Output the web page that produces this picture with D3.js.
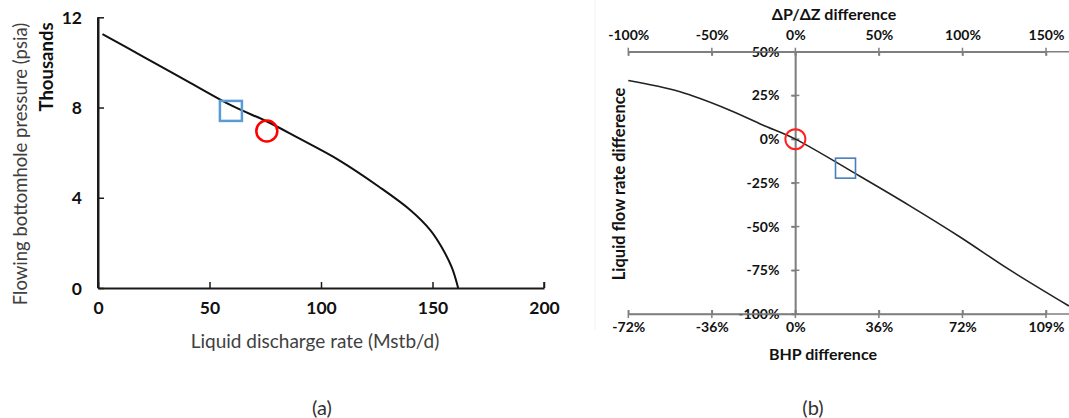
<!DOCTYPE html>
<html><head><meta charset="utf-8">
<script src="https://cdn.jsdelivr.net/npm/d3@7"></script>
<style>
body{margin:0;background:#fff;}
svg{display:block;font-family:Lato,"Open Sans",sans-serif;}
</style></head><body>
<svg id="c" width="1069" height="418"></svg>
<script>
// ---- Data: panel (a) ----
const rateA = [2, 20, 40, 60, 76, 90, 108, 126, 140, 149, 154, 158.7, 161.5];
const pressA = [11.25, 10.27, 9.17, 8.08, 7.37, 6.64, 5.67, 4.49, 3.46, 2.57, 1.83, 0.9, 0];
const squareA = [59.6, 7.85];
const circleA = [75.7, 6.96];
const xTicksA = [0, 50, 100, 150, 200];
const yTicksA = [0, 4, 8, 12];
// ---- Data: panel (b) ----
const dpdzB = [-100, -69.5, -39.6, -19.6, 0, 38.4, 68.3, 98.3, 128.3, 163.7];
const rateDiffB = [33.5, 27.2, 16.7, 8.1, 0, -21.1, -38.0, -55.8, -74.8, -95.4];
const squareB = [30, -16.6];
const circleB = [0, 0];
const topTicksB = [-100, -50, 0, 50, 100, 150];
const bottomTickLabelsB = ["-72%", "-36%", "0%", "36%", "72%", "109%"];
const yTicksB = [50, 25, 0, -25, -50, -75, -100];

const svg = d3.select("#c");

// ================= Panel (a) =================
const xa = d3.scaleLinear().domain([0, 200]).range([98, 544]);
const ya = d3.scaleLinear().domain([0, 12]).range([288, 17.3]);
const ga = svg.append("g");

const axA = ga.append("g").attr("transform", `translate(0,${ya(0)})`)
  .call(d3.axisBottom(xa).tickValues(xTicksA).tickSizeInner(-6).tickSizeOuter(0).tickPadding(14));
const ayA = ga.append("g").attr("transform", `translate(${xa(0)},0)`)
  .call(d3.axisLeft(ya).tickValues(yTicksA).tickSizeInner(-6).tickSizeOuter(0).tickPadding(16));
[axA, ayA].forEach(a => {
  a.select(".domain").attr("stroke", "#1a1a1a").attr("stroke-width", 2);
  a.selectAll(".tick line").attr("stroke", "#1a1a1a").attr("stroke-width", 1.5);
  a.selectAll(".tick text").attr("font-size", 17.5).attr("font-weight", 700).attr("fill", "#111").attr("font-family", "Lato");
});
ayA.selectAll(".tick text").attr("dy", "0.35em");
ga.append("line").attr("x1", xa(0)).attr("x2", xa(0)).attr("y1", ya(12)).attr("y2", ya(0))
  .attr("stroke", "#1a1a1a").attr("stroke-width", 2);
ga.append("line").attr("x1", xa(200)).attr("x2", xa(200)).attr("y1", ya(0)).attr("y2", ya(0) - 6)
  .attr("stroke", "#1a1a1a").attr("stroke-width", 1.5);

const lineA = d3.line().x(d => xa(d[0])).y(d => ya(d[1])).curve(d3.curveCatmullRom.alpha(0.5));
ga.append("path").datum(rateA.map((r, i) => [r, pressA[i]]))
  .attr("d", lineA).attr("fill", "none").attr("stroke", "#111").attr("stroke-width", 2);

ga.append("rect").attr("x", xa(squareA[0]) - 11).attr("y", ya(squareA[1]) - 10)
  .attr("width", 22).attr("height", 20).attr("fill", "none")
  .attr("stroke", "#5B9BD5").attr("stroke-width", 2.5);
ga.append("circle").attr("cx", xa(circleA[0])).attr("cy", ya(circleA[1])).attr("r", 10.5)
  .attr("fill", "none").attr("stroke", "#FF0000").attr("stroke-width", 2.5);

ga.append("text").attr("transform", "translate(27,164) rotate(-90)").attr("text-anchor", "middle")
  .attr("font-size", 18.5).attr("font-weight", 400).attr("fill", "#404040")
  .text("Flowing bottomhole pressure (psia)");
ga.append("text").attr("transform", "translate(53,67) rotate(-90)").attr("text-anchor", "middle")
  .attr("font-size", 18.5).attr("font-weight", 700).attr("fill", "#111")
  .text("Thousands");
ga.append("text").attr("x", 315).attr("y", 348).attr("text-anchor", "middle")
  .attr("font-size", 19).attr("font-weight", 400).attr("fill", "#404040")
  .text("Liquid discharge rate (Mstb/d)");
ga.append("text").attr("x", 322).attr("y", 415).attr("text-anchor", "middle")
  .attr("font-size", 20).attr("font-weight", 400).attr("fill", "#333").text("(a)");

// ================= Panel (b) =================
const xb = d3.scaleLinear().domain([-100, 150]).range([628.3, 1046]);
const yb = d3.scaleLinear().domain([-100, 50]).range([314, 51.7]);
const gb = svg.append("g");
const axisGray = "#7f7f7f";

gb.append("line").attr("x1", 595).attr("x2", 595).attr("y1", 0).attr("y2", 330)
  .attr("stroke", "#f2f2f2").attr("stroke-width", 1);

const topAx = gb.append("g").attr("transform", `translate(0,${yb(50)})`)
  .call(d3.axisTop(xb).tickValues(topTicksB).tickFormat(d => d + "%").tickSizeInner(-4).tickSizeOuter(0).tickPadding(12));
const botAx = gb.append("g").attr("transform", `translate(0,${yb(-100)})`)
  .call(d3.axisBottom(xb).tickValues(topTicksB).tickFormat((d, i) => bottomTickLabelsB[i]).tickSizeInner(-4).tickSizeOuter(0).tickPadding(8));
const yAx = gb.append("g").attr("transform", `translate(${xb(0)},0)`)
  .call(d3.axisLeft(yb).tickValues(yTicksB).tickFormat(d => d + "%").tickSizeInner(4).tickSizeOuter(0).tickPadding(12));
[topAx, botAx, yAx].forEach(a => {
  a.select(".domain").attr("stroke", axisGray).attr("stroke-width", 1.5);
  a.selectAll(".tick line").attr("stroke", axisGray).attr("stroke-width", 1.5);
  a.selectAll(".tick text").attr("font-size", 14).attr("font-weight", 700).attr("fill", "#111").attr("font-family", "Lato");
});
[yb(50), yb(-100)].forEach(yy => {
  gb.append("line").attr("x1", xb(-100)).attr("x2", 1069).attr("y1", yy).attr("y2", yy)
    .attr("stroke", axisGray).attr("stroke-width", 1.5);
  topTicksB.forEach(t => gb.append("line").attr("x1", xb(t)).attr("x2", xb(t))
    .attr("y1", yy - 4).attr("y2", yy + 4).attr("stroke", axisGray).attr("stroke-width", 1.5));
});
yTicksB.forEach(t => gb.append("line").attr("x1", xb(0) - 4).attr("x2", xb(0) + 4)
  .attr("y1", yb(t)).attr("y2", yb(t)).attr("stroke", axisGray).attr("stroke-width", 1.5));
gb.append("line").attr("x1", xb(0)).attr("x2", xb(0)).attr("y1", yb(50)).attr("y2", yb(-100))
  .attr("stroke", axisGray).attr("stroke-width", 1.5);

const lineB = d3.line().x(d => xb(d[0])).y(d => yb(d[1])).curve(d3.curveCatmullRom.alpha(0.5));
gb.append("path").datum(dpdzB.map((v, i) => [v, rateDiffB[i]]))
  .attr("d", lineB).attr("fill", "none").attr("stroke", "#222").attr("stroke-width", 1.6);

gb.append("rect").attr("x", xb(squareB[0]) - 10).attr("y", yb(squareB[1]) - 10)
  .attr("width", 20).attr("height", 20).attr("fill", "none")
  .attr("stroke", "#4A7EBB").attr("stroke-width", 1.6);
gb.append("circle").attr("cx", xb(circleB[0])).attr("cy", yb(circleB[1])).attr("r", 10)
  .attr("fill", "none").attr("stroke", "#FF2020").attr("stroke-width", 2);

gb.append("text").attr("x", 834).attr("y", 20).attr("text-anchor", "middle")
  .attr("font-size", 16).attr("font-weight", 700).attr("fill", "#111").text("ΔP/ΔZ difference");
gb.append("text").attr("x", 823).attr("y", 360).attr("text-anchor", "middle")
  .attr("font-size", 16).attr("font-weight", 700).attr("fill", "#111").text("BHP difference");
gb.append("text").attr("transform", "translate(625,184) rotate(-90)").attr("text-anchor", "middle")
  .attr("font-size", 16.5).attr("font-weight", 700).attr("fill", "#111").text("Liquid flow rate difference");
gb.append("text").attr("x", 813).attr("y", 415).attr("text-anchor", "middle")
  .attr("font-size", 20).attr("font-weight", 400).attr("fill", "#333").text("(b)");
</script>
</body></html>
